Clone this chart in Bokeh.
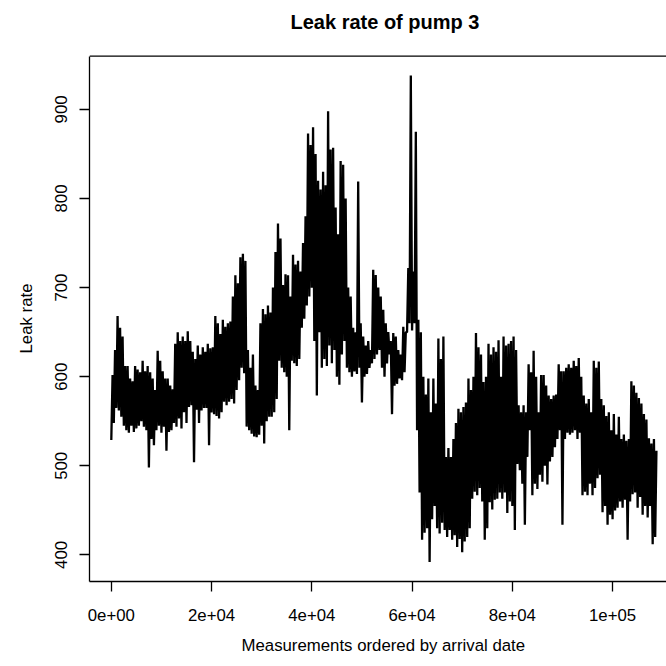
from bokeh.plotting import figure
from bokeh.models import FixedTicker, LinearAxis, Range1d, Title, Label, Span
from bokeh.embed import file_html
from bokeh.resources import INLINE

# Leak rate readings: for each block of 500 measurements, the low and high
# value of the trace read from the reference picture (in arrival order).
leak_lo = [
    529, 548, 565, 562, 555, 545, 540, 537, 545, 538, 542, 545, 550, 544, 540, 498,
    530, 523, 540, 545, 537, 544, 517, 538, 540, 548, 544, 553, 542, 560, 548, 566,
    568, 504, 563, 548, 562, 565, 565, 523, 560, 558, 556, 553, 560, 572, 568, 572,
    575, 570, 585, 596, 610, 604, 544, 540, 536, 533, 532, 535, 545, 525, 550, 555,
    555, 560, 575, 618, 610, 605, 600, 540, 618, 615, 612, 620, 655, 665, 680, 690,
    700, 640, 579, 650, 610, 620, 612, 635, 615, 630, 600, 591, 625, 640, 610, 605,
    600, 606, 603, 610, 571, 600, 603, 610, 615, 620, 625, 630, 610, 600, 615, 625,
    558, 590, 592, 598, 596, 605, 650, 660, 652, 660, 540, 470, 417, 425, 430, 392,
    440, 455, 430, 424, 436, 428, 420, 428, 417, 422, 409, 418, 403, 415, 420, 430,
    463, 471, 467, 475, 460, 417, 430, 459, 451, 462, 463, 470, 463, 470, 447, 460,
    455, 428, 502, 495, 480, 434, 510, 540, 467, 480, 474, 490, 482, 500, 479, 505,
    510, 521, 530, 540, 434, 530, 537, 535, 537, 540, 530, 537, 467, 471, 467, 480,
    467, 475, 486, 490, 448, 455, 434, 445, 440, 450, 453, 460, 453, 462, 417, 460,
    468, 470, 453, 465, 445, 455, 442, 455, 412, 420,
]
leak_hi = [
    602, 630, 668, 655, 645, 612, 612, 598, 595, 612, 608, 605, 618, 606, 612, 605,
    598, 585, 629, 618, 606, 598, 598, 590, 586, 637, 650, 640, 645, 640, 651, 640,
    628, 620, 635, 625, 633, 628, 637, 632, 633, 668, 660, 648, 664, 656, 660, 662,
    690, 714, 705, 734, 738, 730, 630, 610, 625, 590, 585, 660, 676, 670, 680, 672,
    700, 740, 772, 755, 703, 715, 714, 690, 737, 726, 730, 718, 750, 780, 873, 860,
    880, 850, 820, 810, 830, 815, 898, 855, 857, 790, 760, 842, 838, 800, 700, 690,
    655, 650, 819, 660, 645, 635, 640, 630, 720, 714, 700, 690, 675, 660, 650, 640,
    649, 645, 630, 625, 656, 650, 722, 938, 718, 875, 664, 650, 600, 580, 598, 560,
    598, 570, 643, 620, 645, 510, 520, 510, 530, 548, 564, 560, 566, 571, 598, 585,
    600, 649, 633, 625, 594, 600, 637, 625, 633, 628, 641, 600, 645, 635, 637, 640,
    645, 630, 568, 560, 568, 560, 614, 605, 629, 600, 560, 602, 602, 590, 579, 575,
    579, 580, 614, 606, 606, 610, 614, 610, 618, 612, 621, 600, 579, 570, 575, 560,
    618, 610, 617, 575, 568, 556, 560, 540, 558, 535, 555, 530, 535, 528, 530, 595,
    590, 582, 576, 570, 558, 552, 531, 525, 530, 517,
]
block_size = 500          # measurements per low/high reading
n_measurements = 108800

x_ticks = [0, 20000, 40000, 60000, 80000, 100000]
x_tick_labels = ["0e+00", "2e+04", "4e+04", "6e+04", "8e+04", "1e+05"]
y_ticks = [400, 500, 600, 700, 800, 900]

title_text = "Leak rate of pump 3"
x_title = "Measurements ordered by arrival date"
y_title = "Leak rate"

# trace: low then high reading inside each block of measurements
xs, ys = [], []
for i, (lo, hi) in enumerate(zip(leak_lo, leak_hi)):
    xs += [i * block_size, i * block_size + block_size // 2]
    ys += [lo, hi]

# R-style 4% padding of the data ranges (the plot box)
x_start = 1 - 0.04 * (n_measurements - 1)
x_full = 1.08 * (n_measurements - 1)      # full width of R's plot box
x_end = x_start + x_full * 577 / 589       # the window shows 577 of its 589 px
y_min, y_max = min(ys), max(ys)
y_pad = 0.04 * (y_max - y_min)
y_box_lo, y_box_hi = y_min - y_pad, y_max + y_pad
# the frame reaches up to the page top (581 px); the box itself is 525.4 px tall
y_end = y_box_lo + (y_box_hi - y_box_lo) * 581 / 525.4

FONT = "Liberation Sans"
FS = "16.8px"

p = figure(
    width=666, height=666, output_backend="svg", toolbar_location=None,
    x_range=Range1d(x_start, x_end), y_range=Range1d(y_box_lo, y_end),
    min_border_left=89, min_border_right=0, min_border_top=0, min_border_bottom=85,
    x_axis_location=None, y_axis_location=None,
)
p.outline_line_color = None
p.xgrid.visible = False
p.ygrid.visible = False
p.background_fill_color = "white"
p.border_fill_color = "white"

p.line(xs, ys, line_color="black", line_width=2.3)

# top side of the plot box
p.add_layout(Span(location=y_box_hi, dimension="width", line_color="black",
                  line_width=1.3))


def style_axis(ax):
    ax.axis_line_color = "black"
    ax.axis_line_width = 1.3
    ax.major_tick_line_color = "black"
    ax.major_tick_line_width = 1.3
    ax.major_tick_out = 10
    ax.major_tick_in = 0
    ax.minor_tick_line_color = None
    ax.major_label_text_font = FONT
    ax.major_label_text_font_size = FS
    ax.major_label_text_color = "black"
    ax.axis_label_text_font = FONT
    ax.axis_label_text_font_size = FS
    ax.axis_label_text_font_style = "normal"
    ax.axis_label_text_color = "black"


xaxis = LinearAxis(ticker=FixedTicker(ticks=x_ticks))
xaxis.major_label_overrides = {t: lab for t, lab in zip(x_ticks, x_tick_labels)}
style_axis(xaxis)
xaxis.major_label_standoff = 17
p.add_layout(xaxis, "below")

yaxis = LinearAxis(ticker=FixedTicker(ticks=y_ticks), bounds=(y_box_lo, y_box_hi))
style_axis(yaxis)
yaxis.major_label_orientation = "vertical"
yaxis.major_label_standoff = 12
p.add_layout(yaxis, "left")

# y title, centred on the plot box rather than on the taller frame
yt = Title(text=y_title, align="left", offset=228, vertical_align="top",
           text_font=FONT, text_font_size=FS, text_font_style="normal",
           text_color="black", standoff=30)
p.add_layout(yt, "left")

xt = Title(text=x_title, align="left", offset=152, text_font=FONT,
           text_font_size=FS, text_font_style="normal", text_color="black",
           standoff=21)
p.add_layout(xt, "below")

title_label = Label(x=201, y=559.3, x_units="screen", y_units="screen",
                    text=title_text, text_font=FONT, text_font_size="20px",
                    text_font_style="bold", text_color="black",
                    text_baseline="alphabetic", text_align="left")
p.add_layout(title_label)

open("out.html", "w").write(file_html(p, INLINE))
